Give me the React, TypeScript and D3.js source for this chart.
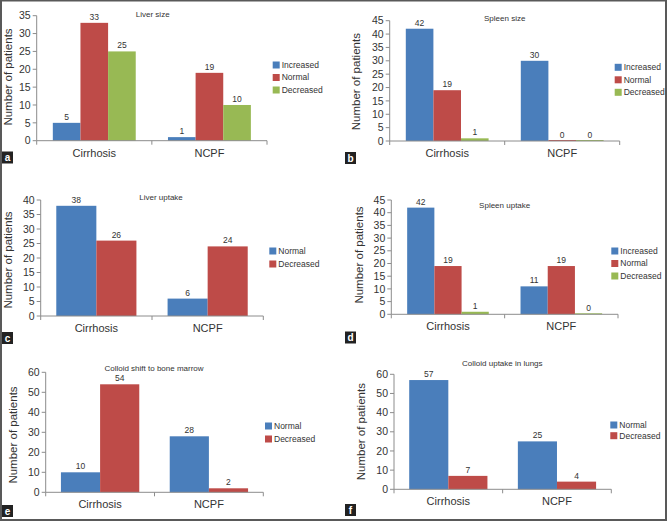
import React from "react";
import * as d3 from "d3";

const categories = ["Cirrhosis", "NCPF"];
const threeSeries = ["Increased", "Normal", "Decreased"];
const twoSeries = ["Normal", "Decreased"];

const liverSizeIncreased = [5, 1];
const liverSizeNormal = [33, 19];
const liverSizeDecreased = [25, 10];

const spleenSizeIncreased = [42, 30];
const spleenSizeNormal = [19, 0];
const spleenSizeDecreased = [1, 0];

const liverUptakeNormal = [38, 6];
const liverUptakeDecreased = [26, 24];

const spleenUptakeIncreased = [42, 11];
const spleenUptakeNormal = [19, 19];
const spleenUptakeDecreased = [1, 0];

const marrowNormal = [10, 28];
const marrowDecreased = [54, 2];

const lungsNormal = [57, 25];
const lungsDecreased = [7, 4];

const BLUE = "#4a7ebb";
const RED = "#be4b48";
const GREEN = "#98b954";
const threeColors = [BLUE, RED, GREEN];
const twoColors = [BLUE, RED];

type Layout = {
  x0: number; x1: number; yTop: number; yBottom: number;
  titleX: number; titleY: number;
  legendX: number; legendY: number; legendGap: number;
  yLabelX: number; yLabelY: number;
  boxX: number; boxY: number;
};

type PanelDef = {
  letter: string;
  title: string;
  series: string[];
  values: number[][];
  colors: string[];
  yMax: number;
  yStep: number;
  layout: Layout;
};

const panels: PanelDef[] = [
  {
    letter: "a", title: "Liver size", series: threeSeries,
    values: [liverSizeIncreased, liverSizeNormal, liverSizeDecreased],
    colors: threeColors, yMax: 35, yStep: 5,
    layout: { x0: 36.7, x1: 267, yTop: 15.7, yBottom: 140.7, titleX: 152.7, titleY: 16.5,
      legendX: 272.7, legendY: 65, legendGap: 12.5, yLabelX: 7.5, yLabelY: 77, boxX: 2, boxY: 151.5 },
  },
  {
    letter: "b", title: "Spleen size", series: threeSeries,
    values: [spleenSizeIncreased, spleenSizeNormal, spleenSizeDecreased],
    colors: threeColors, yMax: 45, yStep: 5,
    layout: { x0: 389.7, x1: 619.7, yTop: 20.7, yBottom: 141, titleX: 504.7, titleY: 20.5,
      legendX: 614.7, legendY: 67.3, legendGap: 12.5, yLabelX: 356.3, yLabelY: 81.7, boxX: 345, boxY: 152 },
  },
  {
    letter: "c", title: "Liver uptake", series: twoSeries,
    values: [liverUptakeNormal, liverUptakeDecreased],
    colors: twoColors, yMax: 40, yStep: 5,
    layout: { x0: 40.7, x1: 263.3, yTop: 200, yBottom: 316, titleX: 161, titleY: 199.5,
      legendX: 269.3, legendY: 251, legendGap: 13, yLabelX: 8.3, yLabelY: 260, boxX: 2, boxY: 332 },
  },
  {
    letter: "d", title: "Spleen uptake", series: threeSeries,
    values: [spleenUptakeIncreased, spleenUptakeNormal, spleenUptakeDecreased],
    colors: threeColors, yMax: 45, yStep: 5,
    layout: { x0: 391.3, x1: 618, yTop: 200, yBottom: 314.3, titleX: 504.7, titleY: 207.5,
      legendX: 611.3, legendY: 251, legendGap: 12.5, yLabelX: 359, yLabelY: 255, boxX: 345, boxY: 331.5 },
  },
  {
    letter: "e", title: "Colloid shift to bone marrow", series: twoSeries,
    values: [marrowNormal, marrowDecreased],
    colors: twoColors, yMax: 60, yStep: 10,
    layout: { x0: 45.7, x1: 263.3, yTop: 372.3, yBottom: 492.3, titleX: 154, titleY: 370.5,
      legendX: 265, legendY: 426, legendGap: 13, yLabelX: 13.3, yLabelY: 435, boxX: 2, boxY: 505 },
  },
  {
    letter: "f", title: "Colloid uptake in lungs", series: twoSeries,
    values: [lungsNormal, lungsDecreased],
    colors: twoColors, yMax: 60, yStep: 10,
    layout: { x0: 394, x1: 611.3, yTop: 374.3, yBottom: 489.3, titleX: 502.3, titleY: 366,
      legendX: 610.3, legendY: 425, legendGap: 10.7, yLabelX: 361.3, yLabelY: 431.7, boxX: 345, boxY: 504 },
  },
];

const FONT = "'Liberation Sans', Arial, sans-serif";
const AXIS = "#8c8c8c";
const TEXT = "#333333";

function Panel({ p }: { p: PanelDef }) {
  const L = p.layout;
  const x = d3.scaleBand<string>().domain(categories).range([L.x0, L.x1]).paddingInner(0).paddingOuter(0);
  const y = d3.scaleLinear().domain([0, p.yMax]).range([L.yBottom, L.yTop]);
  const bw = x.bandwidth();
  const groupW = bw * 0.72;
  const inner = d3.scaleBand<string>().domain(p.series).range([(bw - groupW) / 2, (bw + groupW) / 2]).padding(0);
  const ticks = d3.range(0, p.yMax + p.yStep / 2, p.yStep);
  const xTicks = [L.x0, ...categories.map((c) => (x(c) as number) + bw)];

  return (
    <g>
      {/* bars */}
      {p.series.map((s, si) =>
        categories.map((c, ci) => {
          const v = p.values[si][ci];
          const bx = (x(c) as number) + (inner(s) as number);
          const top = y(v);
          const h = Math.max(1, L.yBottom - top);
          return (
            <g key={s + c}>
              <rect x={bx} y={L.yBottom - h} width={inner.bandwidth()} height={h} fill={p.colors[si]} />
              <text x={bx + inner.bandwidth() / 2} y={top - 3} textAnchor="middle" fontSize={8.5}
                fill={TEXT} fontFamily={FONT}>{v}</text>
            </g>
          );
        })
      )}
      {/* y axis */}
      <line x1={L.x0} x2={L.x0} y1={L.yTop} y2={L.yBottom} stroke={AXIS} strokeWidth={1} />
      {ticks.map((t) => (
        <g key={t}>
          <line x1={L.x0 - 4} x2={L.x0} y1={y(t)} y2={y(t)} stroke={AXIS} strokeWidth={1} />
          <text x={L.x0 - 6} y={y(t)} dy="0.35em" textAnchor="end" fontSize={10.5} fill={TEXT}
            fontFamily={FONT}>{t}</text>
        </g>
      ))}
      {/* x axis */}
      <line x1={L.x0} x2={L.x1} y1={L.yBottom} y2={L.yBottom} stroke={AXIS} strokeWidth={1} />
      {xTicks.map((t, i) => (
        <line key={i} x1={t} x2={t} y1={L.yBottom} y2={L.yBottom + 4} stroke={AXIS} strokeWidth={1} />
      ))}
      {categories.map((c) => (
        <text key={c} x={(x(c) as number) + bw / 2} y={L.yBottom + 16} textAnchor="middle" fontSize={11}
          fill={TEXT} fontFamily={FONT}>{c}</text>
      ))}
      {/* y label */}
      <text transform={`translate(${L.yLabelX},${L.yLabelY}) rotate(-90)`} textAnchor="middle" dy="0.35em"
        fontSize={11.5} fill={TEXT} fontFamily={FONT}>Number of patients</text>
      {/* title */}
      <text x={L.titleX} y={L.titleY} textAnchor="middle" fontSize={8} fill={TEXT} fontFamily={FONT}>{p.title}</text>
      {/* legend */}
      {p.series.map((s, si) => (
        <g key={s} transform={`translate(${L.legendX},${L.legendY + si * L.legendGap})`}>
          <rect x={0} y={-3.5} width={7} height={7} fill={p.colors[si]} />
          <text x={9} y={0} dy="0.35em" fontSize={8.5} fill={TEXT} fontFamily={FONT}>{s}</text>
        </g>
      ))}
      {/* panel letter */}
      <rect x={L.boxX} y={L.boxY} width={11} height={12} fill="#222" />
      <text x={L.boxX + 5.5} y={L.boxY + 9.5} textAnchor="middle" fontSize={10} fontWeight="bold" fill="#fff"
        fontFamily={FONT}>{p.letter}</text>
    </g>
  );
}

export default function App() {
  return (
    <svg width={667} height={521} style={{ position: "absolute", left: 0, top: 0, background: "#fff" }}>
      <rect x={0} y={0} width={667} height={521} fill="#fff" />
      {panels.map((p) => (
        <Panel key={p.letter} p={p} />
      ))}
      <rect x={1} y={0.5} width={665} height={519.5} fill="none" stroke="#595959" strokeWidth={2} />
    </svg>
  );
}
